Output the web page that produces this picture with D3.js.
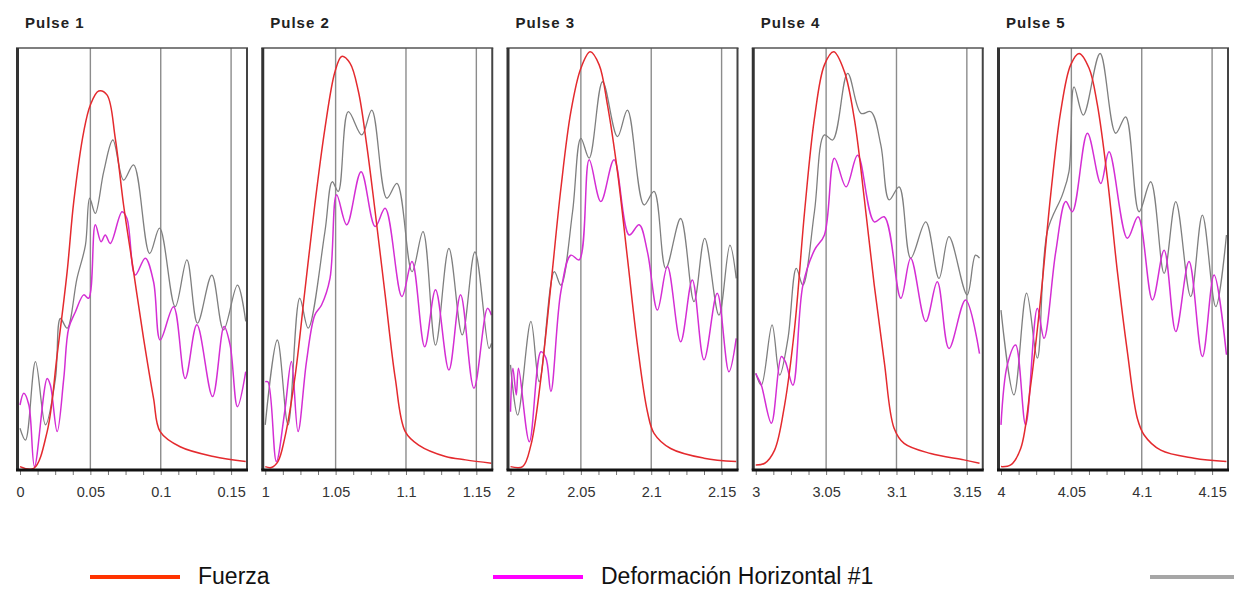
<!DOCTYPE html>
<html>
<head>
<meta charset="utf-8">
<script src="https://cdn.jsdelivr.net/npm/d3@7"></script>
<style>
  body { margin: 0; background: #fff; }
  text { font-family: "Liberation Sans", Arial, sans-serif; }
</style>
</head>
<body>
<script>
// pulses: label + time at which each window starts (s)
const pulseNames = ['Pulse 1', 'Pulse 2', 'Pulse 3', 'Pulse 4', 'Pulse 5']
const pulseStarts = [0, 1, 2, 3, 4]
const tickOffsets = [0, 0.05, 0.1, 0.15]

// series: [ms since pulse start, value in % of panel height]
const fuerza1 = [[0,0.8],[9.8,0.4],[19.3,9.1],[26.4,27.3],[33.5,47],[38.2,63.6],[45.3,80.2],[50,86.5],[55.9,89.8],[61.8,88.9],[67.7,78.6],[73.6,62.8],[80.7,47],[87.8,31.2],[94.9,17],[99.6,9.1],[113.8,5.5],[137.5,3.2],[160.4,2]]
const fuerza2 = [[0,0.8],[4.3,0.6],[9,2],[13.8,7.5],[21,21.7],[28.1,42.3],[35.2,62.8],[42.4,80.9],[49.5,94.3],[54.3,98],[60.2,96.4],[66.2,89.7],[72.1,77],[78.1,61.2],[85.2,41.5],[92.4,21.7],[99.5,9.1],[109,5.9],[128.1,3.2],[142.4,2.4],[160.7,1.6]]
const fuerza3 = [[0,0.8],[8.6,0.8],[14.5,5.9],[21.6,21.7],[28.7,43.8],[35.8,66.7],[42.9,84.9],[50,95.2],[56.6,99.1],[63,96],[68.9,86.5],[76,70.7],[83.1,50.2],[90.2,29.6],[97.3,13.8],[102,8.7],[113.8,5.1],[137.5,2.8],[160.4,2]]
const fuerza4 = [[0,1.2],[6.4,1.6],[13.4,4.7],[20.5,15.4],[27.6,33.6],[34.7,61.2],[41.7,83.3],[48.8,96],[55.4,99.1],[63,94.4],[70,83.3],[77.1,64.4],[84.2,43.8],[91.3,25.7],[98.3,9.9],[105.4,6.3],[124.3,3.9],[147.9,2.4],[159,1.6]]
const fuerza5 = [[0,0.8],[6.9,1.2],[14,5.1],[21.1,20.1],[28.2,40.7],[35.3,65.2],[42.4,84.9],[49.5,96],[55.5,98.7],[62.6,95.2],[68.5,86.5],[75.6,69.1],[82.7,47],[89.8,28],[96.9,12.2],[101.7,8.3],[113.5,4.7],[137.2,2.8],[160.2,2]]

const deform1 = [[0,15.4],[2.7,18.2],[6.3,15.4],[10.3,0.8],[19.3,21.7],[21.6,20.1],[26.4,9.1],[31.1,21.7],[34.6,33.6],[39.4,37.5],[45.3,41.5],[48.8,40.7],[53.5,58.1],[57.6,54.1],[60.6,55.7],[64.2,53.7],[72.5,61.2],[76,59.6],[81.9,46.2],[89,50.2],[94.9,44.6],[99.6,30.8],[109.1,38.7],[117.4,21.7],[125.7,34.4],[136.8,17.4],[145,34],[149.3,29.6],[154.5,15],[160.4,23.3]]
const deform2 = [[0,20.9],[1.9,20.9],[7.9,2],[13.8,13.8],[18.6,25.7],[23.3,9.1],[29.3,25.7],[35.2,36.7],[40,39.1],[46,45.4],[50.7,65.2],[57.9,58.1],[68.1,70.7],[78.1,57.7],[85.2,62],[97.1,41.1],[104.3,49.4],[113.3,29.2],[121,42.7],[130.5,23.7],[138.8,41.5],[148.3,19.4],[157.9,38.3],[160.7,36.7]]
const deform3 = [[0,13.8],[1.7,24.1],[4.1,17.8],[5.7,24.1],[13.4,6.7],[21.6,28],[25.2,26.5],[28.7,18.6],[35.8,42.3],[42.9,50.9],[48.8,49.8],[55.9,73.5],[64.2,63.6],[73.6,73.5],[84.3,55.7],[91.4,58.1],[97.3,51.7],[104.4,37.9],[111.5,48.2],[120.9,30.4],[129.2,45],[137.5,26.1],[146.9,41.9],[155.2,23.3],[160.4,31.2]]
const deform4 = [[0,22.9],[1.7,21.7],[4,20.1],[11.1,11.1],[18.2,26.9],[21,25.7],[26.4,20.1],[33.5,43.8],[41.7,52.1],[48.8,55.7],[55.9,73.9],[64.2,67.1],[72.4,74.6],[84.2,58.8],[91.3,60],[103.1,40.7],[110.1,50.2],[120.8,35.2],[129,44.6],[137.3,28.8],[149.1,40.3],[159,27.6]]
const deform5 = [[0,10.7],[4.5,24.9],[10.4,29.6],[17.5,10.7],[25.8,38.3],[30.6,31.2],[38.9,51.7],[46,63.6],[50.7,61.2],[61.4,79.8],[70.9,67.9],[76.8,75.4],[89.8,54.9],[97.4,60],[107.6,40.3],[115.9,52.1],[124.2,32.8],[133.6,49.4],[143.1,26.9],[151.4,46.2],[160.2,27.3]]

const serie3_1 = [[0,9.9],[3.9,7.1],[11,25.7],[18.1,10.7],[25.2,21.7],[28.7,35.9],[33.5,33.6],[40.5,45.4],[46.5,53.3],[49.5,64.4],[53.5,60.8],[59.5,70.7],[66,78.2],[73.6,68.7],[80.7,72.3],[92.1,51.3],[99.2,57.3],[110.3,38.7],[118.6,49.8],[126.1,34.8],[136.3,46.2],[144.6,33.2],[154.5,43.8],[160.4,35.2]]
const serie3_2 = [[0,10.7],[8.6,30.8],[16.2,10.7],[24.5,40.7],[30.5,33.6],[42.4,56.5],[47.6,68.3],[51.9,66],[59,84.9],[68.6,79.4],[75.7,85.3],[86.4,64.4],[93.6,67.9],[104.3,47],[112.1,56.5],[121,29.6],[130.5,52.5],[140,32],[149,51.7],[159,28.8],[160.7,30]]
const serie3_3 = [[0,24.9],[5.1,13],[14.5,35.2],[20.4,20.9],[31.1,47],[35.8,43.8],[44.1,61.2],[50,78.6],[55.9,73.9],[65.4,92],[76,79],[83.1,85.3],[94.9,62.8],[102,66],[110.3,47.8],[120.9,59.6],[130.4,39.9],[138,54.9],[148.1,36.7],[155.9,53.3],[160.4,45.4]]
const serie3_4 = [[0,22.9],[4,20.1],[11.6,34.4],[17,22.5],[22.9,31.2],[28.8,47.8],[33.5,43.8],[41.7,61.2],[48.8,79.4],[54.7,78.2],[65.3,94],[74.8,84.5],[81.8,84.9],[88.9,77],[94.8,64],[101.9,67.1],[110.1,50.2],[120.8,58.8],[130.2,45.4],[137.3,55.3],[150.2,41.5],[156.1,50.9],[159,50.2]]
const serie3_5 = [[0,37.9],[9.2,17.8],[18.2,41.9],[25.8,26.5],[32.9,56.5],[43.6,65.2],[48.3,70.7],[51.9,90.8],[58.5,84.1],[70.4,98.7],[81.5,79.8],[88.6,83.7],[98.1,61.2],[106.4,68.3],[115.9,46.6],[124.2,63.6],[134.8,41.1],[143.1,60.4],[152.6,38.7],[160.2,55.7]]

const legendLabels = ['Fuerza', 'Deformación Horizontal #1', '']

const fuerza = [fuerza1, fuerza2, fuerza3, fuerza4, fuerza5]
const deform = [deform1, deform2, deform3, deform4, deform5]
const serie3 = [serie3_1, serie3_2, serie3_3, serie3_4, serie3_5]

const W = 1234, H = 590
const yTop = 48, yBottom = 470, span = 0.1613

let svg = d3.select('body').append('svg')
  .attr('width', W).attr('height', H)

let y = d3.scaleLinear().domain([0, 100]).range([yBottom, yTop])

pulseNames.forEach((name, i) => {
  let x0 = 16 + i * 245.25
  let s = pulseStarts[i]
  let x = d3.scaleLinear().domain([s, s + span]).range([x0 + 4, x0 + 231])
  let g = svg.append('g')

  g.append('text').attr('x', x0 + 9).attr('y', 28)
    .attr('font-size', 15).attr('font-weight', 'bold')
    .attr('letter-spacing', 1).attr('fill', '#222').text(name)

  g.append('clipPath').attr('id', 'clip' + i)
    .append('rect').attr('x', x0 + 2).attr('y', yTop)
    .attr('width', 229).attr('height', yBottom - yTop)

  // grid at the major ticks (not at the start)
  g.selectAll('.grid').data(tickOffsets.slice(1)).enter()
    .append('line')
    .attr('x1', d => x(s + d)).attr('x2', d => x(s + d))
    .attr('y1', yTop).attr('y2', yBottom)
    .attr('stroke', '#8c8c8c').attr('stroke-width', 1.4)

  let line = d3.line()
    .x(d => x(s + d[0] / 1000))
    .y(d => y(d[1]))
    .curve(d3.curveCatmullRom.alpha(0.5))

  let plot = g.append('g').attr('clip-path', `url(#clip${i})`)
  plot.append('path').datum(serie3[i]).attr('d', line)
    .attr('fill', 'none').attr('stroke', '#7f7f7f').attr('stroke-width', 1.3)
  plot.append('path').datum(deform[i]).attr('d', line)
    .attr('fill', 'none').attr('stroke', '#d42ed4').attr('stroke-width', 1.5)
  plot.append('path').datum(fuerza[i]).attr('d', line)
    .attr('fill', 'none').attr('stroke', '#e42a2e').attr('stroke-width', 1.5)

  // frame
  g.append('line').attr('x1', x0).attr('x2', x0 + 232).attr('y1', yTop).attr('y2', yTop)
    .attr('stroke', '#555').attr('stroke-width', 1.5)
  g.append('line').attr('x1', x0 + 231).attr('x2', x0 + 231).attr('y1', yTop).attr('y2', yBottom)
    .attr('stroke', '#444').attr('stroke-width', 2)
  g.append('line').attr('x1', x0 + 1.5).attr('x2', x0 + 1.5).attr('y1', yTop).attr('y2', yBottom)
    .attr('stroke', '#333').attr('stroke-width', 3)

  // minor ticks
  let minor = d3.range(0, 0.1613, 0.0125).map(d => s + d)
  g.append('g').attr('transform', `translate(0,${yBottom})`)
    .call(d3.axisBottom(x).tickValues(minor).tickSize(5).tickFormat(''))
    .call(a => a.select('.domain').remove())
    .call(a => a.selectAll('.tick line').attr('stroke', '#777'))

  let ax = g.append('g').attr('transform', `translate(0,${yBottom})`)
    .call(d3.axisBottom(x).tickValues(tickOffsets.map(d => s + d))
      .tickSize(0).tickPadding(17)
      .tickFormat(d => String(+d.toFixed(2))))
  ax.select('.domain').remove()
  ax.selectAll('text').attr('font-size', 14.5).attr('fill', '#333')
    .attr('font-family', '"Liberation Sans", Arial, sans-serif')

  g.append('line').attr('x1', x0).attr('x2', x0 + 232).attr('y1', yBottom).attr('y2', yBottom)
    .attr('stroke', '#111').attr('stroke-width', 3)
})

// legend
let legendColors = ['#ff3300', '#ff00ff', '#a6a6a6']
let legendX = [90, 493, 1150]
legendLabels.forEach((lab, i) => {
  svg.append('line').attr('x1', legendX[i]).attr('x2', legendX[i] + 90)
    .attr('y1', 577).attr('y2', 577)
    .attr('stroke', legendColors[i]).attr('stroke-width', 4)
  if (lab) {
    svg.append('text').attr('x', legendX[i] + 108).attr('y', 584)
      .attr('font-size', 23).attr('fill', '#111')
      .text(lab)
  }
})
</script>
</body>
</html>
